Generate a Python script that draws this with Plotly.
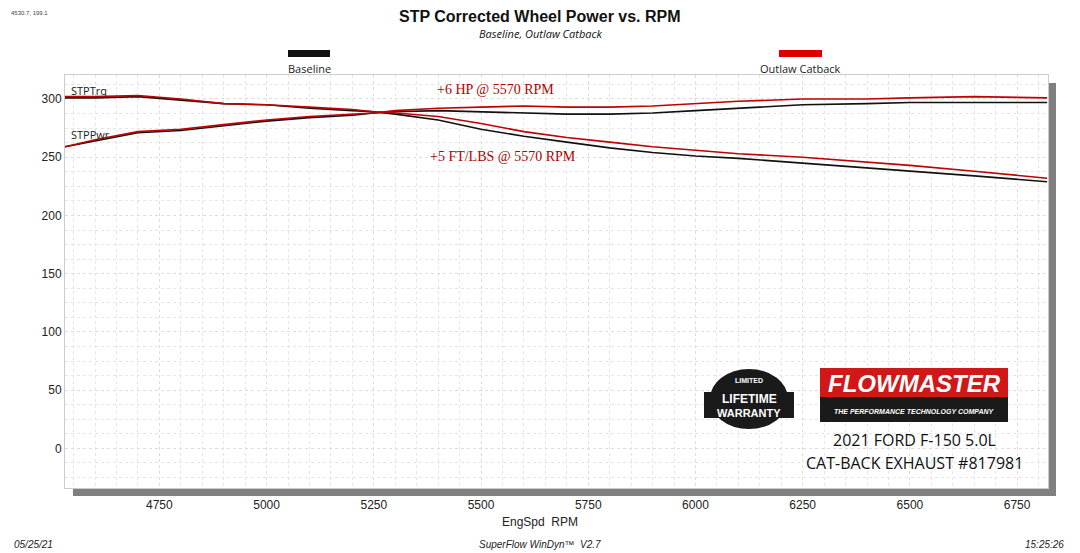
import plotly.graph_objects as go

# RPM sample points
rpm = [4530, 4600, 4700, 4800, 4900, 5000, 5100, 5200, 5250, 5300, 5400, 5500, 5600,
       5700, 5800, 5900, 6000, 6100, 6250, 6400, 6500, 6650, 6820]

# Baseline
base_trq = [301, 301, 302, 299, 296, 295, 292, 290, 289, 287, 282, 274, 268,
            263, 258, 254, 251, 249, 245, 241, 238, 234, 229]
base_pwr = [259, 264, 271, 273, 277, 281, 284, 286, 288, 289, 290, 289, 288,
            287, 287, 288, 290, 292, 295, 296, 297, 297, 297]

# Outlaw Catback
out_trq = [302, 302, 303, 300, 296, 295, 293, 291, 289, 288, 285, 279, 272,
           267, 263, 259, 256, 253, 250, 246, 243, 238, 232]
out_pwr = [259, 265, 272, 274, 278, 282, 285, 287, 288, 290, 292, 293, 294,
           293, 293, 294, 296, 298, 300, 300, 301, 302, 301]

x_ticks = [4750, 5000, 5250, 5500, 5750, 6000, 6250, 6500, 6750]
y_ticks = [0, 50, 100, 150, 200, 250, 300]

fig = go.Figure()
for y in (base_trq, base_pwr):
    fig.add_trace(go.Scatter(x=rpm, y=y, mode="lines", line=dict(color="#111111", width=1.6),
                             showlegend=False))
for y in (out_trq, out_pwr):
    fig.add_trace(go.Scatter(x=rpm, y=y, mode="lines", line=dict(color="#c00000", width=1.6),
                             showlegend=False))

# page body has an 8px margin; plot area target: x 65..1048, y 75..488 (screen px)
OFF = 8
L, R, T, B = 65, 1048, 75, 488
pw, ph = R - L, B - T

def px(x):
    return (x - L) / pw

def py(y):
    return (B - y) / ph

def rect(x0, x1, y0, y1, color, **kw):
    return dict(type="rect", xref="paper", yref="paper", x0=px(x0), x1=px(x1),
                y0=py(y1), y1=py(y0), fillcolor=color, line_width=0, **kw)

shapes = [
    rect(R, R + 8, T + 8, B + 8, "#808080", layer="below"),
    rect(L + 8, R + 8, B, B + 8, "#808080", layer="below"),
    rect(288, 330, 50, 57, "#111111"),
    rect(779, 822, 50, 57, "#dd0000"),
    rect(820, 1008, 368, 397, "#d01818"),
    rect(820, 1008, 397, 422, "#1a1a1a"),
    dict(type="circle", xref="paper", yref="paper", x0=px(709), x1=px(789),
         y0=py(430), y1=py(368), fillcolor="#1a1a1a", line=dict(color="#ffffff", width=2)),
    rect(704, 794, 392, 418, "#1a1a1a"),
]

def ann(x, y, text, size, color="#222222", font="Open Sans", **kw):
    kw.setdefault("xanchor", "center")
    return dict(xref="paper", yref="paper", x=px(x), y=py(y), text=text, yanchor="middle",
                showarrow=False, font=dict(size=size, color=color, family=font), **kw)

annotations = [
    ann(540, 16, "<b>STP Corrected Wheel Power vs. RPM</b>", 16, "#111111", "Liberation Sans"),
    ann(540, 33, "<i>Baseline, Outlaw Catback</i>", 11, "#111111"),
    ann(309, 68, "Baseline", 11),
    ann(800, 68, "Outlaw Catback", 11),
    ann(69, 91, "STPTrq", 11, xanchor="left"),
    ann(69, 134, "STPPwr", 11, xanchor="left"),
    ann(495, 89, "+6 HP @ 5570 RPM", 14, "#b00000", "Liberation Serif"),
    ann(503, 156, "+5 FT/LBS @ 5570 RPM", 14, "#b00000", "Liberation Serif"),
    ann(540, 522, "EngSpd  RPM", 12, "#222222", "Liberation Sans"),
    ann(12, 544, "<i>05/25/21</i>", 10, "#222222", "Liberation Sans", xanchor="left"),
    ann(540, 544, "<i>SuperFlow WinDyn™  V2.7</i>", 10, "#222222", "Liberation Sans"),
    ann(1066, 544, "<i>15:25:26</i>", 10, "#222222", "Liberation Sans", xanchor="right"),
    ann(9, 13, "4530.7, 199.1", 6, "#444444", "Liberation Sans", xanchor="left"),
    ann(914, 383, "<b><i>FLOWMASTER</i></b>", 24, "#ffffff", "Liberation Sans"),
    ann(914, 411, "<b><i>THE PERFORMANCE TECHNOLOGY COMPANY</i></b>", 7, "#ffffff", "Liberation Sans"),
    ann(749, 380, "<b>LIMITED</b>", 7, "#ffffff", "Liberation Sans"),
    ann(749, 399, "<b>LIFETIME</b>", 12, "#ffffff", "Liberation Sans"),
    ann(749, 413, "<b>WARRANTY</b>", 11, "#ffffff", "Liberation Sans"),
    ann(914, 440, "2021 FORD F-150 5.0L", 16, "#111111"),
    ann(914, 463, "CAT-BACK EXHAUST #817981", 16, "#111111"),
]

fig.update_layout(
    width=1080, height=553,
    margin=dict(l=L - OFF, r=1080 + OFF - R, t=T - OFF, b=553 + OFF - B),
    paper_bgcolor="white", plot_bgcolor="white",
    shapes=shapes, annotations=annotations, showlegend=False,
    xaxis=dict(range=[4530, 6822], tickvals=x_ticks, showgrid=True, gridcolor="#dddddd",
               griddash="dot", minor=dict(dtick=50, showgrid=True, gridcolor="#e6e6e6", griddash="dot"),
               zeroline=False, showline=True, linecolor="#cccccc", mirror=True,
               tickfont=dict(size=12, color="#222222", family="Liberation Sans"),
               ticks="", ticklabelstandoff=6),
    yaxis=dict(range=[-34, 320.6], tickvals=y_ticks, showgrid=True, gridcolor="#dddddd",
               griddash="dot", minor=dict(dtick=12.5, showgrid=True, gridcolor="#e6e6e6", griddash="dot"),
               zeroline=False, showline=True, linecolor="#cccccc", mirror=True,
               tickfont=dict(size=12, color="#222222", family="Liberation Sans"), ticks=""),
)

fig.write_html("out.html")
